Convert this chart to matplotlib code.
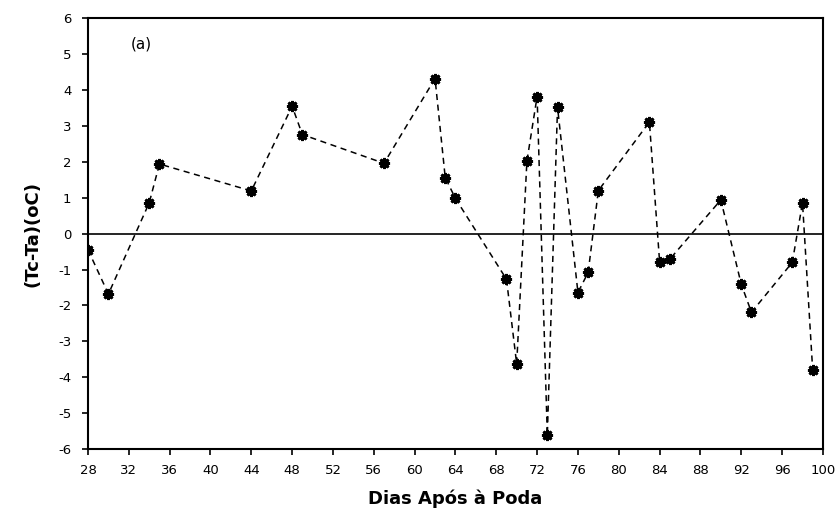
import numpy as np
import matplotlib.pyplot as plt

plt.rcParams['axes.unicode_minus'] = False

# dias apos a poda e diferenca de temperatura (Tc-Ta)
dias = [28, 30, 34, 35, 44, 48, 49, 57, 62, 63, 64, 69, 70, 71, 72, 73, 74,
        76, 77, 78, 83, 84, 85, 90, 92, 93, 97, 98, 99]
tc_ta = [-0.45, -1.68, 0.86, 1.94, 1.19, 3.55, 2.76, 1.96, 4.32, 1.56, 0.98,
         -1.27, -3.63, 2.02, 3.82, -5.62, 3.52, -1.64, -1.08, 1.2, 3.11,
         -0.78, -0.71, 0.94, -1.41, -2.19, -0.8, 0.86, -3.81]

xticks = np.arange(28, 101, 4)
yticks = np.arange(-6, 7, 1)

fig = plt.figure(figsize=(8.38, 5.21), dpi=100)
ax = fig.add_axes([0.105, 0.138, 0.877, 0.827])

ax.plot(dias, tc_ta, linestyle=(0, (4, 3)), color='black', linewidth=1.1,
        marker=(8, 2, 0), markersize=8, markeredgewidth=2.0,
        markerfacecolor='black', markeredgecolor='black')
ax.axhline(0, color='black', linewidth=1.2)

ax.set_xlim(28, 100)
ax.set_ylim(-6, 6)
ax.set_xticks(xticks)
ax.set_yticks(yticks)
ax.tick_params(direction='out', length=4, width=1.2, labelsize=9.5)
ax.tick_params(axis='x', pad=7)
ax.tick_params(axis='y', pad=8)
for s in ax.spines.values():
    s.set_linewidth(1.5)

ax.text(0.058, 0.93, '(a)', transform=ax.transAxes, fontsize=11)
ax.set_xlabel('Dias Após à Poda', fontsize=13, fontweight='bold', labelpad=9)
ax.set_ylabel('(Tc-Ta)(oC)', fontsize=13, fontweight='bold', labelpad=12)

fig.savefig('out.png', dpi=100)
